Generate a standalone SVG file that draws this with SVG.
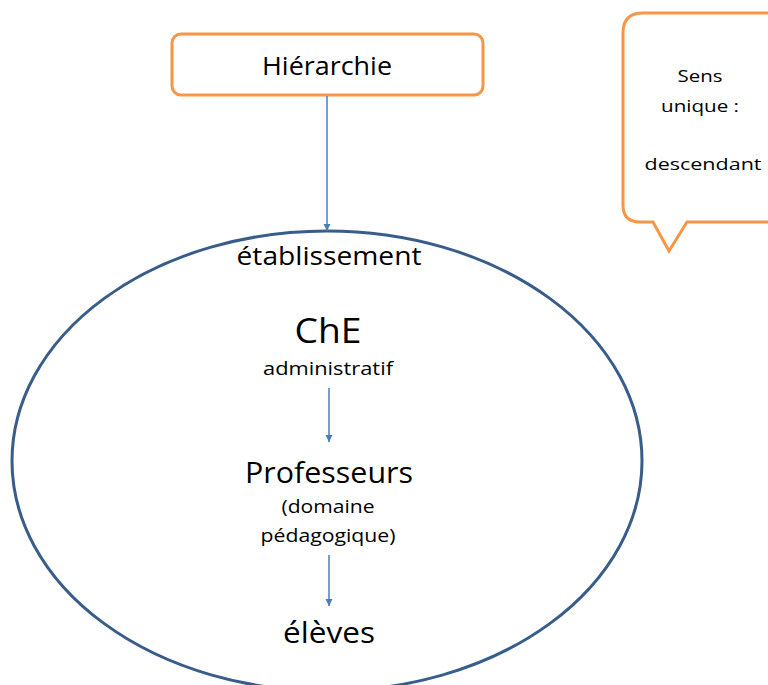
<svg xmlns="http://www.w3.org/2000/svg" width="768" height="685" viewBox="0 0 768 685">
<style>
.t{font-family:"Open Sans",Lato,"Liberation Sans",sans-serif;fill:#000;text-anchor:middle}
.b{font-weight:500}
.conn{stroke:#4A7EBB;stroke-width:1.5;fill:none}
.orange{stroke:#F79646;stroke-width:3;fill:#fff}
</style>
<defs>
<marker id="ah" markerWidth="8" markerHeight="8" refX="7" refY="4" orient="auto" markerUnits="userSpaceOnUse">
<path d="M0,0.5 L7,4 L0,7.5 Z" fill="#4A7EBB"/>
</marker>
</defs>
<rect width="768" height="685" fill="#fff"/>
<g id="etablissement">
<ellipse cx="327" cy="461" rx="315" ry="230" fill="none" stroke="#385D8A" stroke-width="3"/>
<text class="t b" x="329" y="265" font-size="26" textLength="185" lengthAdjust="spacingAndGlyphs">établissement</text>
</g>
<g id="hierarchie">
<rect class="orange" x="172" y="34" width="311" height="61" rx="9"/>
<text class="t" x="327" y="75" font-size="25" textLength="130" lengthAdjust="spacingAndGlyphs">Hiérarchie</text>
</g>
<g id="callout">
<path class="orange" d="M643,13 L790,13 L790,222 L687,222 L669,251 L653,222 L640,222 Q623,222 623,205 L623,33 Q623,13 643,13 Z"/>
<text class="t" x="700" y="82" font-size="17" textLength="45" lengthAdjust="spacingAndGlyphs">Sens</text>
<text class="t" x="700" y="112" font-size="17" textLength="78" lengthAdjust="spacingAndGlyphs">unique :</text>
<text class="t" x="703" y="170" font-size="17" textLength="117" lengthAdjust="spacingAndGlyphs">descendant</text>
</g>
<g id="che">
<text class="t b" x="328" y="343" font-size="35" textLength="67" lengthAdjust="spacingAndGlyphs">ChE</text>
<text class="t b" x="328" y="375" font-size="19" textLength="130" lengthAdjust="spacingAndGlyphs">administratif</text>
</g>
<g id="professeurs">
<text class="t b" x="329" y="483" font-size="29" textLength="168" lengthAdjust="spacingAndGlyphs">Professeurs</text>
<text class="t b" x="328" y="513" font-size="19" textLength="93" lengthAdjust="spacingAndGlyphs">(domaine</text>
<text class="t b" x="328" y="542" font-size="19" textLength="135" lengthAdjust="spacingAndGlyphs">pédagogique)</text>
</g>
<g id="eleves">
<text class="t b" x="329" y="643" font-size="29" textLength="92" lengthAdjust="spacingAndGlyphs">élèves</text>
</g>
<g id="connectors">
<line class="conn" x1="327" y1="96" x2="327" y2="231" marker-end="url(#ah)"/>
<line class="conn" x1="329" y1="388" x2="329" y2="442" marker-end="url(#ah)"/>
<line class="conn" x1="329" y1="555" x2="329" y2="606" marker-end="url(#ah)"/>
</g>
</svg>
